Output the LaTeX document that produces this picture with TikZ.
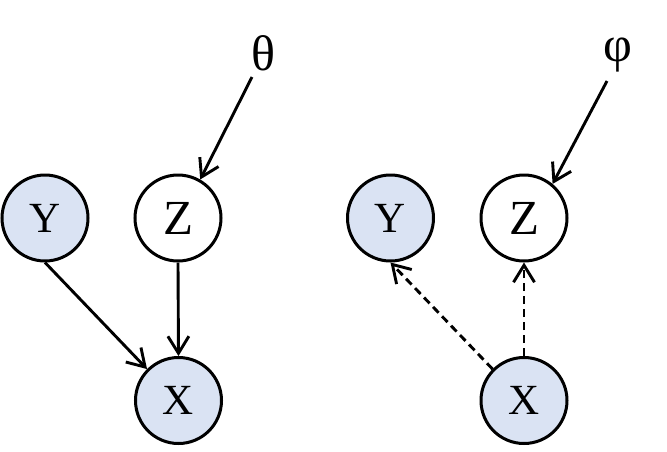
\documentclass[tikz,border=0pt]{standalone}
\usepackage{fontspec}
\setmainfont{Liberation Serif}
\usetikzlibrary{arrows.meta}
\definecolor{obsfill}{HTML}{DAE3F3}
\begin{document}
\begin{tikzpicture}[x=1pt,y=-1pt,
  var/.style={circle,draw=black,line width=3pt,minimum size=86pt,inner sep=0pt,font=\fontsize{43}{43}\selectfont},
  obs/.style={var,fill=obsfill},
  lat/.style={var,fill=white},
  param/.style={inner sep=0pt,font=\fontsize{50}{50}\selectfont},
  edge/.style={line width=2.9pt,-{Straight Barb[length=17pt,width=21pt,line width=2.9pt]}},
  infer/.style={edge,dash pattern=on 8pt off 5pt}]
\useasboundingbox (0,0) rectangle (667,451);
% left model
\node[obs] (Y1) at (45,218) {Y};
\node[lat,font=\fontsize{49}{49}\selectfont] (Z1) at (178,218) {Z};
\node[obs] (X1) at (178.5,400.5) {X};
\node[param] (th) at (263,53) {θ};
\coordinate (th0) at (252,77);
\draw[edge] (th0) -- (Z1.60);
\draw[edge] (Y1.south) -- (X1.north west);
\draw[edge] (Z1.south) -- (X1.north);
% right model
\node[obs] (Y2) at (390.5,218) {Y};
\node[lat,font=\fontsize{49}{49}\selectfont] (Z2) at (524,218) {Z};
\node[obs] (X2) at (524,400.5) {X};
\node[param] (ph) at (618,55) {φ};
\coordinate (ph0) at (607,81);
\draw[edge] (ph0) -- (Z2.50);
\draw[infer] (X2.north west) -- (Y2.south);
\draw[infer] (X2.north) -- (Z2.south);
\end{tikzpicture}
\end{document}
